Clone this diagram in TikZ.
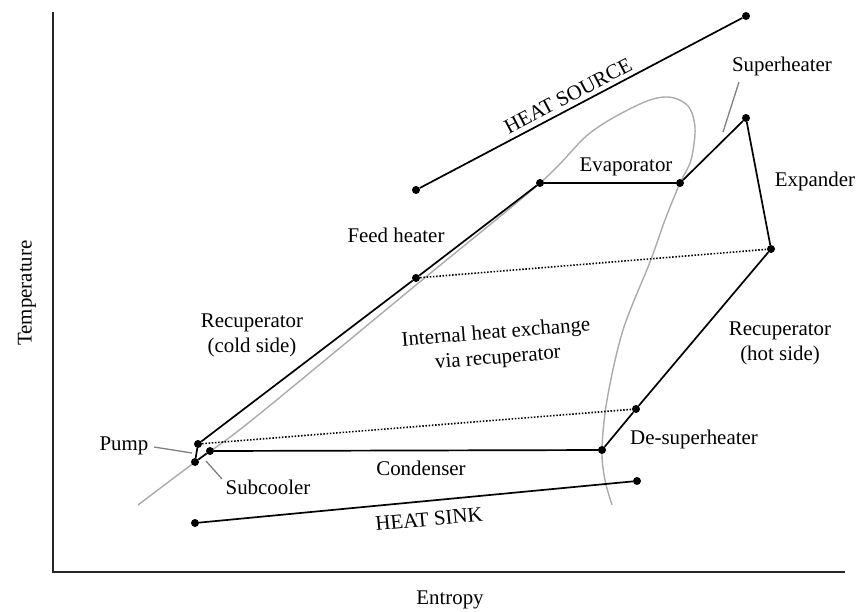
\documentclass[tikz,border=0pt]{standalone}
\usepackage{fontspec}
\setmainfont{Liberation Serif}
\begin{document}
\begin{tikzpicture}[x=1pt,y=-1pt,
  font=\fontsize{20.9}{25}\selectfont,
  dot/.style={circle,fill=black,inner sep=0pt,minimum size=8pt},
  cyc/.style={line width=1.7pt,black},
  recup/.style={line width=1.6pt,dash pattern=on 1.5pt off 1.7pt},
  dome/.style={line width=1.4pt,color=black!33},
  leader/.style={line width=1.3pt,color=black!50},
  axisline/.style={line width=1.6pt,black!85},
  lbl/.style={inner sep=0pt,align=center}]
\useasboundingbox (0,0) rectangle (859,611);

% axes
\coordinate (ytop) at (53,12);
\coordinate (orig) at (53,572);
\coordinate (xend) at (845,572);
\draw[axisline] (ytop) -- (orig) -- (xend);
\node[lbl,rotate=90] (tlab) at (27,293) {Temperature};
\node[lbl] (slab) at (450,600) {Entropy};

% saturation dome
\draw[dome] plot[smooth,tension=0.55] coordinates {
 (138,505) (195,462) (252,420) (416,285) (540,183) (590,133) (640,104)
 (668,97) (688,106) (695,128) (691,160) (680,183) (665,220) (650,262)
 (623,330) (607,400) (602,450) (605,480) (612,505)};

% heat source and sink
\node[dot] (hs1) at (416,190) {};
\node[dot] (hs2) at (746,16) {};
\draw[cyc] (hs1) -- (hs2);
\node[lbl,rotate=27.8] (hslab) at (568,96) {HEAT SOURCE};

\node[dot] (hk1) at (195,523) {};
\node[dot] (hk2) at (637,481) {};
\draw[cyc] (hk1) -- (hk2);
\node[lbl,rotate=5.4] (hklab) at (429,519) {HEAT SINK};

% cycle state points
\node[dot] (A) at (210,451) {};
\node[dot] (B) at (195,462) {};
\node[dot] (C) at (198,444) {};
\node[dot] (D) at (416,278) {};
\node[dot] (E) at (540,183) {};
\node[dot] (F) at (680,183) {};
\node[dot] (G) at (746,118) {};
\node[dot] (H) at (771,249) {};
\node[dot] (I) at (636,409) {};
\node[dot] (J) at (602,450) {};

\draw[cyc] (A) -- (B);
\draw[cyc] (B) -- (C);
\draw[cyc] (C) -- (D);
\draw[cyc] (D) -- (E);
\draw[cyc] (E) -- (F);
\draw[cyc] (F) -- (G);
\draw[cyc] (G) -- (H);
\draw[cyc] (H) -- (I);
\draw[cyc] (I) -- (J);
\draw[cyc] (J) -- (A);

\draw[recup] (C) -- (I);
\draw[recup] (D) -- (H);

% labels
\node[lbl] (evap) at (626,167) {Evaporator};
\node[lbl] (feed) at (396,235) {Feed heater};
\node[lbl] (rcold) at (252,335) {Recuperator\\(cold side)};
\node[lbl,rotate=4.6] (ihx) at (497,346) {Internal heat exchange\\via recuperator};
\node[lbl] (expd) at (815,181) {Expander};
\node[lbl] (rhot) at (780,343) {Recuperator\\(hot side)};
\node[lbl] (desup) at (694,439) {De-superheater};
\node[lbl] (cond) at (421,468) {Condenser};
\node[lbl] (pump) at (124,446) {Pump};
\node[lbl] (subc) at (268,487) {Subcooler};
\node[lbl] (suph) at (782,66) {Superheater};

% leader lines
\coordinate (pl1) at (154,447);
\coordinate (pl2) at (192,453);
\draw[leader] (pl1) -- (pl2);
\coordinate (sl1) at (206,461);
\coordinate (sl2) at (222,479);
\draw[leader] (sl1) -- (sl2);
\coordinate (hl1) at (739,82);
\coordinate (hl2) at (723,132);
\draw[leader] (hl1) -- (hl2);
\end{tikzpicture}
\end{document}
